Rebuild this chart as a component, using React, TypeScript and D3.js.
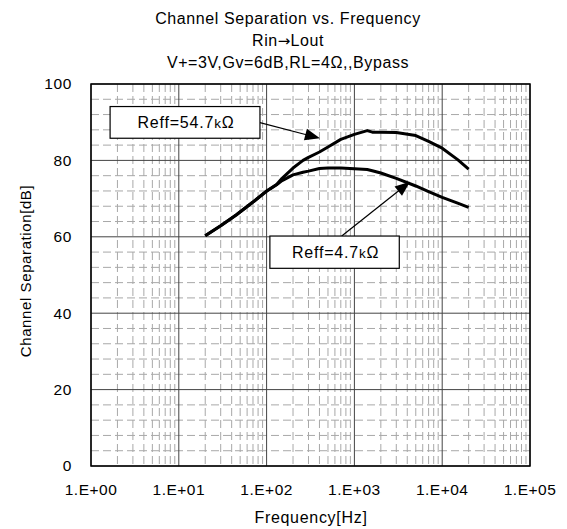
import React from "react";
import * as d3 from "d3";

const titleLines = ["Channel Separation vs. Frequency", "Rin|\u2192|Lout", "V+=3V,Gv=6dB,RL=4\u03A9,,Bypass"];
const xTickValues = [1, 10, 100, 1000, 10000, 100000];
const xTickLabels = ["1.E+00", "1.E+01", "1.E+02", "1.E+03", "1.E+04", "1.E+05"];
const yTickValues = [0, 20, 40, 60, 80, 100];
const freqs = [20, 30, 45, 70, 100, 130, 150, 200, 260, 300, 400, 500, 700, 1000, 1400, 1600, 2000, 3000, 5000, 7000, 10000, 15000, 20000];
const sepHigh = [60.3, 62.9, 65.7, 69.1, 72, 73.7, 75.3, 78, 80, 80.8, 82.2, 83.5, 85.5, 86.8, 87.8, 87.4, 87.4, 87.3, 86.5, 85, 83.2, 80.2, 77.7];
const sepLow = [60.3, 62.9, 65.7, 69.1, 71.9, 73.6, 74.7, 76.2, 76.9, 77.2, 77.9, 78, 78, 77.8, 77.6, 77.3, 76.7, 75.3, 73.3, 71.8, 70.3, 68.8, 67.7];

const annotations = [
  { main: "Reff=54.7", x0: 1.65, x1: 84, y0: 94.1, y1: 85.8, from: [84, 89.9], to: [405, 85.8] },
  { main: "Reff=4.7", x0: 109, x1: 3245, y0: 60.2, y1: 51.75, from: [717, 60.2], to: [4300, 74.4] },
];

const W = 567, H = 529;
const L = 91, R = 530, T = 84, B = 466;
const FONT = "'Liberation Sans', Arial, Helvetica, sans-serif";

export default function App() {
  const x = d3.scaleLog().domain([1, 100000]).range([L, R]);
  const y = d3.scaleLinear().domain([0, 100]).range([B, T]);

  const minorX: number[] = [];
  for (let d = 0; d < 5; d++) for (let m = 2; m <= 9; m++) minorX.push(m * Math.pow(10, d));
  const minorY: number[] = [];
  for (let v = 0; v < 100; v += 4) if (v % 20 !== 0) minorY.push(v);

  const line = d3.line<number>().x((_, i) => x(freqs[i])).y((d) => y(d));

  const arrowHead = (x1: number, y1: number, x2: number, y2: number) => {
    const ang = Math.atan2(y2 - y1, x2 - x1);
    const len = 15, hw = 6;
    const bx = x2 - len * Math.cos(ang), by = y2 - len * Math.sin(ang);
    const px = -Math.sin(ang) * hw, py = Math.cos(ang) * hw;
    return `M${x2},${y2}L${bx + px},${by + py}L${bx - px},${by - py}Z`;
  };

  return (
    <svg width={W} height={H} style={{ position: "absolute", left: 0, top: 0, background: "#fff" }} fontFamily={FONT}>
      <rect x={0} y={0} width={W} height={H} fill="#fff" />
      {titleLines.map((t, i) => {
        const parts = t.split("|");
        return (
          <text key={i} x={288} y={24 + i * 22} textAnchor="middle" fontSize={16} letterSpacing={0.6} fill="#000">
            {parts.length === 1
              ? t
              : parts.map((p, j) =>
                  j === 1 ? (
                    <tspan key={j} fontFamily="'DejaVu Sans', sans-serif" fontSize={15} letterSpacing={0}>{p}</tspan>
                  ) : (
                    <tspan key={j}>{p}</tspan>
                  )
                )}
          </text>
        );
      })}
      {/* minor grid */}
      {minorX.map((v, i) => (
        <line key={"mx" + i} x1={x(v)} x2={x(v)} y1={T} y2={B} stroke="#a8a8a8" strokeWidth={1} strokeDasharray="8,4" />
      ))}
      {minorY.map((v, i) => (
        <line key={"my" + i} x1={L} x2={R} y1={y(v)} y2={y(v)} stroke="#a8a8a8" strokeWidth={1} strokeDasharray="8,4" />
      ))}
      {/* major grid */}
      {xTickValues.map((v, i) => (
        <line key={"Mx" + i} x1={x(v)} x2={x(v)} y1={T} y2={B} stroke="#444" strokeWidth={1} />
      ))}
      {yTickValues.map((v, i) => (
        <line key={"My" + i} x1={L} x2={R} y1={y(v)} y2={y(v)} stroke="#444" strokeWidth={1} />
      ))}
      <rect x={L} y={T} width={R - L} height={B - T} fill="none" stroke="#000" strokeWidth={1.5} />
      {/* curves */}
      <path d={line(sepHigh) || ""} fill="none" stroke="#000" strokeWidth={3} strokeLinejoin="round" />
      <path d={line(sepLow) || ""} fill="none" stroke="#000" strokeWidth={3} strokeLinejoin="round" />
      {/* tick labels */}
      {yTickValues.map((v, i) => (
        <text key={"yl" + i} x={72} y={y(v)} dy="0.35em" textAnchor="end" fontSize={15.5} letterSpacing={0.6}>{v}</text>
      ))}
      {xTickValues.map((v, i) => (
        <text key={"xl" + i} x={x(v)} y={495} textAnchor="middle" fontSize={15.5} letterSpacing={0.5}>{xTickLabels[i]}</text>
      ))}
      <text x={311} y={523} textAnchor="middle" fontSize={16} letterSpacing={0.7}>Frequency[Hz]</text>
      <text transform={`translate(31,${271}) rotate(-90)`} textAnchor="middle" fontSize={15} letterSpacing={0.6}>Channel Separation[dB]</text>
      {/* annotations */}
      {annotations.map((a, i) => {
        const bx0 = x(a.x0), bx1 = x(a.x1), by0 = y(a.y0), by1 = y(a.y1);
        const fx = x(a.from[0]), fy = y(a.from[1]), tx = x(a.to[0]), ty = y(a.to[1]);
        const ang = Math.atan2(ty - fy, tx - fx);
        return (
          <g key={"an" + i}>
            <line x1={fx} y1={fy} x2={tx - 12 * Math.cos(ang)} y2={ty - 12 * Math.sin(ang)} stroke="#000" strokeWidth={1.2} />
            <path d={arrowHead(fx, fy, tx, ty)} fill="#000" />
            <rect x={bx0} y={by0} width={bx1 - bx0} height={by1 - by0} fill="#fff" stroke="#000" strokeWidth={1.2} />
            <text x={(bx0 + bx1) / 2 + 1} y={(by0 + by1) / 2} dy="0.36em" textAnchor="middle" fontSize={16} letterSpacing={0.8}>
              {a.main}
              <tspan fontSize={13.5}>k</tspan>
              {"\u03A9"}
            </text>
          </g>
        );
      })}
    </svg>
  );
}
